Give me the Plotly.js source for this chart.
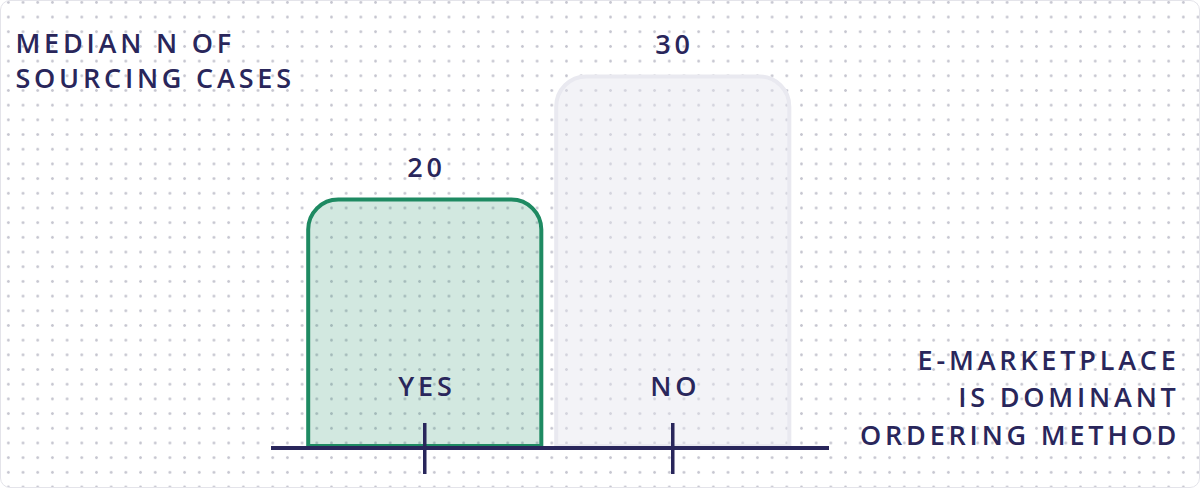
<!DOCTYPE html>
<html>
<head>
<meta charset="utf-8">
<script src="https://cdn.plot.ly/plotly-3.0.1.min.js"></script>
<style>
  html, body { margin: 0; padding: 0; background: #ffffff; }
  #chart {
    width: 1198px; height: 486px;
    border: 1px solid #e4e4ea; border-radius: 10px;
    background-image: radial-gradient(circle, #c6c6d0 1.1px, transparent 1.6px);
    background-size: 14.7px 14.7px;
    background-position: 0px -6px;
    overflow: hidden;
  }
  #chart text { letter-spacing: 3.8px; }
</style>
</head>
<body>
<div id="chart"></div>
<script>
// chart data
var categories = ['YES', 'NO'];
var medianCases = [20, 30];
var yTitle = 'MEDIAN N OF<br>SOURCING CASES';
var xTitleLines = ['E-MARKETPLACE', 'IS DOMINANT', 'ORDERING METHOD'];

var NAVY = '#29265b';
var FONT = '"Open Sans", Lato, sans-serif';
var TXT = { family: FONT, size: 27, color: NAVY, weight: 600 };

var trace = {
  type: 'bar',
  x: categories,
  y: medianCases,
  marker: {
    color: ['rgba(30,138,98,0.2)', 'rgba(228,228,238,0.45)'],
    line: { color: ['#1e8a62', '#e9e9f0'], width: 4 },
    cornerradius: 30
  },
  hoverinfo: 'skip'
};

var annotations = [];
var shapes = [];
// value labels above bars, category labels inside bars, ticks crossing axis
for (var i = 0; i < categories.length; i++) {
  annotations.push({
    x: categories[i], y: medianCases[i], xref: 'x', yref: 'y',
    text: String(medianCases[i]), showarrow: false,
    yanchor: 'middle', yshift: 33, xshift: 2, font: TXT
  });
  annotations.push({
    x: categories[i], y: 0, xref: 'x', yref: 'y',
    text: categories[i], showarrow: false,
    yanchor: 'middle', yshift: 61, xshift: 2, font: TXT
  });
  shapes.push({
    type: 'line', xref: 'x', yref: 'paper', layer: 'above',
    x0: categories[i], x1: categories[i],
    ysizemode: 'pixel', yanchor: 0, y0: -28, y1: 23,
    line: { color: NAVY, width: 3.5 }
  });
}
// right-hand axis label, one line per annotation for wider leading
for (var j = 0; j < xTitleLines.length; j++) {
  annotations.push({
    xref: 'paper', yref: 'paper', x: 1.633, y: 0,
    xanchor: 'right', yanchor: 'middle', align: 'right',
    yshift: 87 - j * 37.5,
    text: xTitleLines[j], showarrow: false, font: TXT
  });
}

var xRange = [-0.62, 1.63];

var layout = {
  width: 1198, height: 486,
  margin: { l: 270, r: 370, t: 20, b: 41 },
  paper_bgcolor: 'rgba(0,0,0,0)',
  plot_bgcolor: 'rgba(0,0,0,0)',
  showlegend: false,
  bargap: 0.06,
  title: {
    text: yTitle,
    xref: 'container', yref: 'container',
    x: 0.012, xanchor: 'left',
    y: 0.893, yanchor: 'top',
    font: TXT
  },
  xaxis: {
    type: 'category',
    categoryarray: categories,
    range: xRange,
    showline: true, linecolor: NAVY, linewidth: 4,
    ticks: '', showticklabels: false, showgrid: false, zeroline: false,
    fixedrange: true
  },
  yaxis: {
    range: [0, 34.5],
    visible: false, showgrid: false, zeroline: false, fixedrange: true
  },
  shapes: shapes,
  annotations: annotations
};

Plotly.newPlot('chart', [trace], layout, { displayModeBar: false, staticPlot: true });
</script>
</body>
</html>
